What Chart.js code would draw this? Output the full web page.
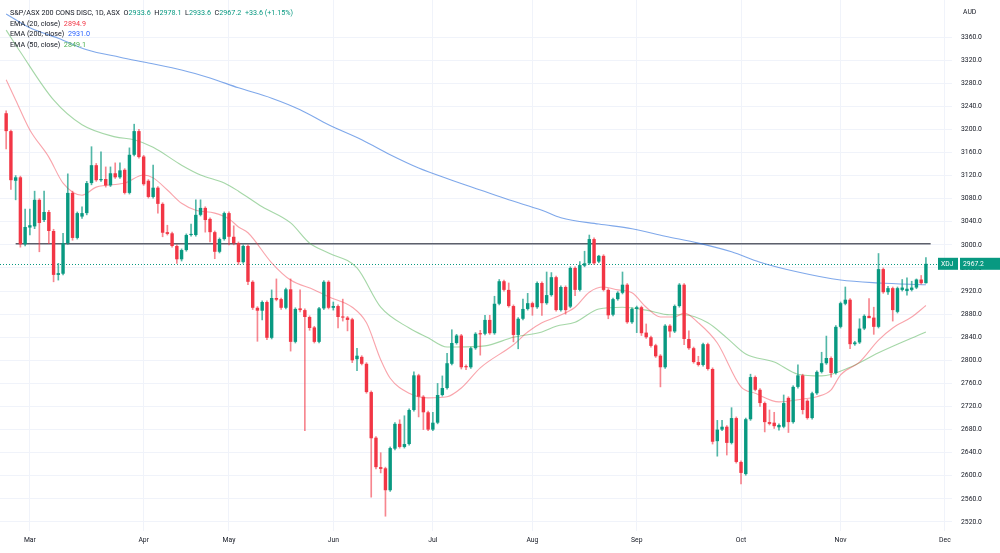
<!DOCTYPE html>
<html>
<head>
<meta charset="utf-8">
<script src="https://cdn.jsdelivr.net/npm/chart.js@4.4.0/dist/chart.umd.min.js"></script>
<style>
  html, body { margin: 0; padding: 0; background: #fff; }
  #wrap { position: relative; width: 1000px; height: 553px; overflow: hidden; }
  #chart { display: block; }
  .legend { position: absolute; left: 10px; top: 8px; font: 7.2px Roboto, sans-serif; color: #131722; line-height: 10.7px; white-space: pre; }
  .unit { position: absolute; left: 963px; top: 8px; font: 6.8px Roboto, sans-serif; color: #131722; }
</style>
</head>
<body>
<div id="wrap">
  <canvas id="chart" width="1000" height="553"></canvas>
  <div class="legend" id="legend"></div>
  <div class="unit">AUD</div>
</div>
<script>
// daily candles, 22 Feb .. 25 Nov
const opens = [3228,3197,3111,3117,3001,3030,3032,3078,3043,3057,3024,2948,2950,3003,3090,3012,3049,3055,3107,3138,
  3112,3114,3103,3124,3117,3130,3090,3156,3197,3153,3111,3083,3099,3071,3022,3020,2998,2975,2991,3017,
  3017,3052,3064,3045,3022,2988,3010,3055,3014,3003,2970,2998,2936,2891,2886,2901,2839,2908,2906,2891,
  2923,2832,2890,2887,2875,2857,2832,2890,2936,2891,2894,2876,2874,2871,2802,2806,2794,2745,2666,2615,
  2613,2575,2647,2690,2650,2655,2714,2774,2737,2710,2680,2692,2740,2752,2794,2830,2843,2790,2788,2821,
  2847,2846,2870,2847,2898,2937,2922,2894,2844,2872,2889,2899,2892,2934,2899,2913,2944,2887,2927,2893,
  2960,2922,2964,2968,3010,2971,2981,2922,2879,2906,2917,2931,2866,2889,2892,2848,2840,2826,2808,2788,
  2860,2850,2894,2931,2837,2821,2797,2792,2828,2785,2660,2680,2685,2657,2700,2624,2603,2698,2771,2749,
  2726,2693,2692,2684,2685,2735,2693,2754,2774,2730,2700,2743,2780,2795,2804,2778,2858,2898,2905,2828,
  2831,2855,2877,2874,2858,2958,2918,2925,2884,2922,2920,2922,2926,2940,2933.6];
const highs = [3232,3199,3120,3119,3062,3062,3093,3080,3093,3060,3027,2968,3020,3123,3093,3057,3066,3110,3170,3141,
  3161,3135,3135,3142,3142,3132,3168,3209,3200,3155,3113,3138,3101,3073,3034,3022,3000,2993,3019,3036,
  3078,3078,3066,3047,3024,3012,3057,3057,3033,3005,3000,3000,2938,2893,2903,2903,2922,2941,2908,2925,
  2941,2891,2922,2889,2877,2859,2892,2938,2938,2901,2896,2906,2876,2873,2821,2808,2796,2747,2668,2640,
  2615,2650,2692,2697,2704,2716,2780,2776,2739,2712,2710,2760,2773,2812,2853,2845,2845,2792,2823,2848,
  2852,2878,2878,2911,2940,2939,2934,2896,2874,2906,2916,2901,2936,2936,2953,2952,2946,2929,2929,2962,
  2962,2971,2989,3017,3012,2982,2983,2924,2908,2919,2953,2933,2891,2894,2894,2863,2842,2828,2810,2862,
  2862,2896,2933,2933,2851,2823,2807,2830,2830,2787,2696,2696,2687,2718,2702,2626,2700,2776,2773,2751,
  2728,2714,2710,2690,2740,2737,2756,2792,2776,2732,2745,2782,2814,2842,2806,2860,2901,2927,2907,2833,
  2872,2879,2907,2892,2985,2960,2928,2927,2927,2940,2943,2937,2941,2947,2978.1];
const lows = [3166,3096,3078,2996,2998,3017,3028,2988,3040,3002,2936,2939,2948,3001,3008,3010,3046,3052,3104,3110,
  3110,3100,3101,3115,3115,3088,3088,3154,3150,3103,3081,3081,3055,3014,3017,2996,2968,2972,2989,3015,
  3015,3050,3022,3005,2976,2986,3008,3000,3000,2966,2968,2931,2888,2833,2870,2836,2837,2903,2888,2889,
  2816,2830,2884,2678,2852,2830,2830,2888,2889,2887,2856,2868,2851,2796,2782,2792,2743,2563,2612,2605,
  2530,2573,2645,2648,2648,2653,2712,2702,2680,2678,2678,2690,2738,2750,2792,2828,2785,2784,2786,2819,
  2809,2844,2845,2845,2896,2920,2892,2832,2820,2870,2887,2878,2890,2878,2897,2911,2885,2885,2880,2891,
  2912,2920,2962,2966,2966,2969,2920,2872,2877,2904,2915,2864,2864,2848,2843,2838,2823,2805,2754,2786,
  2840,2848,2892,2827,2819,2795,2790,2790,2783,2655,2634,2678,2636,2655,2622,2586,2601,2696,2747,2720,
  2676,2688,2682,2679,2683,2675,2691,2752,2707,2698,2698,2741,2778,2793,2771,2776,2856,2896,2820,2826,
  2829,2853,2875,2845,2856,2916,2914,2868,2882,2920,2913,2920,2924,2932,2933.6];
const closes = [3197,3112,3117,3001,3031,3034,3078,3038,3057,3024,2948,2951,3003,3090,3012,3055,3055,3107,3138,3112,
  3114,3103,3124,3117,3129,3090,3156,3197,3152,3105,3083,3099,3071,3021,3019,2998,2975,2991,3017,3019,
  3052,3064,3043,3022,2988,3010,3055,3014,3003,2970,2998,2936,2891,2886,2901,2839,2908,2905,2891,2923,
  2832,2889,2887,2875,2856,2832,2890,2936,2891,2894,2875,2874,2870,2800,2808,2794,2745,2665,2615,2612,
  2575,2648,2690,2650,2655,2714,2774,2737,2710,2680,2692,2740,2752,2795,2830,2843,2788,2788,2821,2846,
  2845,2870,2847,2898,2937,2922,2894,2844,2872,2889,2899,2892,2934,2899,2913,2944,2887,2927,2887,2960,
  2922,2965,2968,3010,2968,2981,2922,2878,2906,2917,2931,2866,2889,2892,2847,2840,2825,2807,2788,2860,
  2850,2894,2931,2837,2821,2797,2792,2828,2785,2659,2680,2685,2657,2700,2624,2605,2698,2771,2749,2726,
  2693,2690,2686,2688,2726,2693,2754,2774,2714,2700,2743,2780,2795,2804,2778,2858,2899,2905,2828,2831,
  2855,2877,2873,2858,2958,2918,2925,2887,2925,2926,2924,2926,2940,2933.6,2967.2];

// moving averages (candle index, value)
const ema20Idx = [0,2,5,9,12,16,19,25,29,31,34,37,40,44,47,49,51,56,60,65,68,73,76,79,81,85,89,93,96,100,107,110,113,116,120,123,126,129,132,135,138,141,143,146,150,155,158,163,168,171,174,176,180,184,187,191,194];
const ema20Val = [3286,3251,3199,3152,3107,3086,3100,3107,3121,3116,3095,3072,3060,3055,3045,3031,3021,2969,2939,2922,2910,2892,2865,2801,2769,2743,2735,2737,2752,2787,2827,2849,2865,2875,2892,2918,2927,2922,2917,2892,2875,2875,2882,2865,2830,2754,2743,2728,2733,2737,2749,2775,2797,2835,2856,2875,2894.9];
const ema50Idx = [0,3,10,16,23,27,31,37,41,46,49,54,60,64,68,74,79,85,89,93,95,101,107,113,116,120,125,130,135,140,143,148,152,156,162,167,172,178,184,194];
const ema50Val = [3372,3334,3251,3208,3187,3182,3169,3138,3121,3107,3093,3066,3038,3003,2986,2960,2892,2856,2839,2823,2823,2825,2840,2849,2859,2866,2889,2892,2887,2879,2879,2865,2839,2811,2797,2776,2773,2788,2813,2849.1];
const ema200Idx = [0,5,11,17,24,30,37,43,49,56,62,68,75,81,87,94,100,106,113,117,125,132,139,146,153,159,167,176,184,194];
const ema200Val = [3400,3376,3358,3338,3325,3315,3303,3289,3272,3254,3234,3208,3182,3156,3133,3112,3095,3078,3060,3047,3036,3028,3015,3003,2988,2970,2953,2939,2934,2931.0];

// horizontal level drawn on the chart
const levelValue = 3002;
const levelFrom = 2;
const levelTo = 195;

const monthLabels = ['Mar','Apr','May','Jun','Jul','Aug','Sep','Oct','Nov','Dec'];
const monthTickIdx = [5,29,47,69,90,111,133,155,176,198];
const yTickValues = [2520,2560,2600,2640,2680,2720,2760,2800,2840,2880,2920,2960,3000,3040,3080,3120,3160,3200,3240,3280,3320,3360];

const symbol = 'XDJ';
const UP = '#089981', DOWN = '#f23645';
const last = closes.length - 1;

const candleColors = closes.map((c, i) => c >= opens[i] ? UP : DOWN);
const wickColors = closes.map((c, i) => c >= opens[i] ? 'rgba(8,153,129,0.7)' : 'rgba(242,54,69,0.6)');

function pts(idx, vals) { return idx.map((x, i) => ({ x, y: vals[i] })); }

// legend text
(function () {
  const chg = closes[last] - closes[last - 1];
  const pct = chg / closes[last - 1] * 100;
  const g = (v) => `<span style="color:${UP}">${v}</span>`;
  const sign = chg >= 0 ? '+' : '';
  document.getElementById('legend').innerHTML =
    `S&amp;P/ASX 200 CONS DISC, 1D, ASX  O${g(opens[last].toFixed(1))}  H${g(highs[last].toFixed(1))}  L${g(lows[last].toFixed(1))}  C${g(closes[last].toFixed(1))}  ${g(sign + chg.toFixed(1) + ' (' + sign + pct.toFixed(2) + '%)')}\n` +
    `EMA (20, close)  <span style="color:#f23645">${ema20Val[ema20Val.length - 1].toFixed(1)}</span>\n` +
    `EMA (200, close)  <span style="color:#2962ff">${ema200Val[ema200Val.length - 1].toFixed(1)}</span>\n` +
    `EMA (50, close)  <span style="color:#4caf50">${ema50Val[ema50Val.length - 1].toFixed(1)}</span>`;
})();

const priceLine = {
  id: 'priceLine',
  beforeDatasetsDraw(chart) {
    const { ctx, chartArea } = chart;
    const y = Math.round(chart.scales.y.getPixelForValue(closes[last])) + 0.5;
    ctx.save();
    ctx.strokeStyle = UP;
    ctx.lineWidth = 1;
    ctx.setLineDash([1, 2]);
    ctx.beginPath();
    ctx.moveTo(chartArea.left, y);
    ctx.lineTo(chartArea.right, y);
    ctx.stroke();
    ctx.restore();
  },
  afterDraw(chart) {
    const { ctx } = chart;
    const y = chart.scales.y.getPixelForValue(closes[last]);
    ctx.save();
    ctx.fillStyle = UP;
    ctx.fillRect(938, y - 6, 20, 12);
    ctx.fillRect(960, y - 6, 40, 12);
    ctx.fillStyle = '#fff';
    ctx.font = '6.8px Roboto, sans-serif';
    ctx.textBaseline = 'middle';
    ctx.fillText(symbol, 941, y + 0.5);
    ctx.fillText(closes[last].toFixed(1), 963, y + 0.5);
    ctx.restore();
  }
};

new Chart(document.getElementById('chart'), {
  data: {
    datasets: [
      {
        type: 'bar', label: 'body', order: 0,
        data: opens.map((o, i) => ({ x: i, y: [o, closes[i]] })),
        backgroundColor: candleColors,
        barPercentage: 0.72, categoryPercentage: 1, grouped: false, minBarLength: 1
      },
      {
        type: 'bar', label: 'wick', order: 1,
        data: lows.map((l, i) => ({ x: i, y: [l, highs[i]] })),
        backgroundColor: wickColors,
        barThickness: 1, grouped: false
      },
      {
        type: 'line', label: 'EMA20', order: 2, data: pts(ema20Idx, ema20Val),
        borderColor: 'rgba(242,54,69,0.45)', borderWidth: 1.1, pointRadius: 0, cubicInterpolationMode: 'monotone'
      },
      {
        type: 'line', label: 'EMA50', order: 2, data: pts(ema50Idx, ema50Val),
        borderColor: 'rgba(76,175,80,0.5)', borderWidth: 1.1, pointRadius: 0, cubicInterpolationMode: 'monotone'
      },
      {
        type: 'line', label: 'EMA200', order: 2, data: pts(ema200Idx, ema200Val),
        borderColor: 'rgba(41,110,220,0.6)', borderWidth: 1.1, pointRadius: 0, cubicInterpolationMode: 'monotone'
      },
      {
        type: 'line', label: 'level', order: 3,
        data: [{ x: levelFrom, y: levelValue }, { x: levelTo, y: levelValue }],
        borderColor: '#5d606b', borderWidth: 1.5, pointRadius: 0
      }
    ]
  },
  options: {
    responsive: false,
    animation: false,
    layout: { padding: 0 },
    plugins: { legend: { display: false }, tooltip: { enabled: false } },
    scales: {
      x: {
        type: 'linear', min: -1.3, max: 199.5, offset: false,
        afterBuildTicks: (s) => { s.ticks = monthTickIdx.map(v => ({ value: v })); },
        afterFit: (s) => { s.height = 22; s.paddingLeft = 0; s.paddingRight = 0; },
        ticks: {
          autoSkip: false, maxRotation: 0, padding: 5,
          color: '#131722', font: { family: 'Roboto', size: 6.8 },
          callback: (v, i) => monthLabels[i]
        },
        grid: { color: '#f0f3fa', drawTicks: false, offset: false },
        border: { display: false }
      },
      y: {
        type: 'linear', position: 'right', min: 2504.4, max: 3424.1,
        afterBuildTicks: (s) => { s.ticks = yTickValues.map(v => ({ value: v })); },
        afterFit: (s) => { s.width = 48; s.paddingTop = 0; s.paddingBottom = 0; },
        ticks: {
          padding: 9, color: '#131722', font: { family: 'Roboto', size: 6.8 },
          callback: (v) => v.toFixed(1)
        },
        grid: { color: '#f0f3fa', drawTicks: false },
        border: { display: false }
      }
    }
  },
  plugins: [priceLine]
});
</script>
</body>
</html>
